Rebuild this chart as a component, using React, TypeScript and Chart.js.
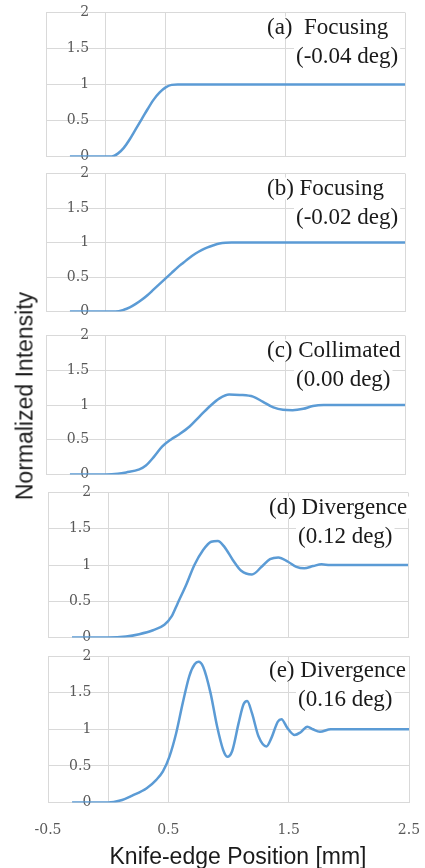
import React, { useEffect, useRef } from "react";
import { Chart, registerables } from "chart.js";
Chart.register(...registerables);

// ---------- data ----------
const X_TICKS = [-0.5, 0.5, 1.5, 2.5];
const X_CROSS = 0; // where the vertical axis line crosses
const Y_TICKS = [0, 0.5, 1, 1.5, 2];

const XA = [-0.3, 0, 0.05, 0.1, 0.15, 0.2, 0.25, 0.3, 0.35, 0.4, 0.45, 0.5, 0.55, 0.6, 2.5];
const YA = [0, 0, 0, 0.04, 0.12, 0.24, 0.38, 0.52, 0.66, 0.79, 0.89, 0.96, 0.995, 1.0, 1.0];

const XB = [-0.3, 0, 0.08, 0.15, 0.2, 0.25, 0.3, 0.35, 0.4, 0.45, 0.5, 0.55, 0.6, 0.65, 0.7, 0.75, 0.8, 0.85, 0.9, 0.95, 1.0, 1.05, 2.5];
const YB = [0, 0, 0, 0.025, 0.06, 0.11, 0.17, 0.24, 0.32, 0.4, 0.48, 0.56, 0.64, 0.71, 0.78, 0.84, 0.89, 0.93, 0.96, 0.985, 0.997, 1.0, 1.0];

const XC = [-0.3, 0, 0.1, 0.17, 0.28, 0.335, 0.4, 0.47, 0.545, 0.615, 0.7, 0.78, 0.865, 0.95, 1.03, 1.12, 1.23, 1.31, 1.4, 1.48, 1.56, 1.65, 1.73, 1.82, 2.5];
const YC = [0, 0, 0.01, 0.03, 0.075, 0.13, 0.25, 0.4, 0.505, 0.58, 0.69, 0.83, 0.975, 1.095, 1.15, 1.145, 1.12, 1.05, 0.965, 0.93, 0.925, 0.945, 0.985, 1.0, 1.0];

const XD = [-0.3, 0, 0.15, 0.26, 0.375, 0.47, 0.53, 0.58, 0.65, 0.72, 0.79, 0.86, 0.915, 0.97, 1.04, 1.11, 1.2, 1.28, 1.35, 1.42, 1.5, 1.57, 1.635, 1.71, 1.78, 1.85, 2.5];
const YD = [0, 0, 0.014, 0.046, 0.1, 0.175, 0.29, 0.47, 0.72, 1.0, 1.2, 1.32, 1.33, 1.25, 1.07, 0.92, 0.87, 0.975, 1.08, 1.105, 1.045, 0.975, 0.955, 0.985, 1.01, 1.0, 1.0];

const XE = [-0.3, 0, 0.1, 0.2, 0.32, 0.4, 0.455, 0.51, 0.565, 0.62, 0.675, 0.72, 0.75, 0.79, 0.85, 0.905, 0.955, 0.99, 1.03, 1.085, 1.125, 1.155, 1.195, 1.25, 1.315, 1.355, 1.41, 1.44, 1.49, 1.55, 1.6, 1.655, 1.7, 1.76, 1.85, 2.5];
const YE = [0, 0, 0.027, 0.095, 0.195, 0.31, 0.425, 0.63, 0.945, 1.36, 1.73, 1.89, 1.92, 1.85, 1.5, 1.04, 0.72, 0.625, 0.7, 1.09, 1.34, 1.385, 1.22, 0.9, 0.765, 0.875, 1.105, 1.137, 1.015, 0.922, 0.96, 1.035, 1.0, 0.965, 1.0, 1.0];

const SERIES_X = [XA, XB, XC, XD, XE];
const SERIES_Y = [YA, YB, YC, YD, YE];

const LABEL_LINE1 = ["(a)  Focusing", "(b) Focusing", "(c) Collimated", "(d) Divergence", "(e) Divergence"];
const LABEL_LINE2 = ["(-0.04 deg)", "(-0.02 deg)", "(0.00 deg)", "(0.12 deg)", "(0.16 deg)"];

const X_TITLE = "Knife-edge Position [mm]";
const Y_TITLE = "Normalized Intensity";

// ---------- layout / style ----------
const W = 425;
const H = 868;
const BOXES = [
  { l: 46, r: 405, t: 12.5, b: 156.5 },
  { l: 46, r: 405, t: 173.5, b: 311.5 },
  { l: 46, r: 405, t: 335.5, b: 474.5 },
  { l: 48, r: 408, t: 492.5, b: 637.5 },
  { l: 48, r: 409, t: 656, b: 802.5 },
];
const Y_LABEL_AT = -0.14; // y tick labels sit just left of the x=0 axis line
const GRID = "#d9d9d9";
const LINE = "#5b9bd5";
const TICK_FONT = { family: "'DejaVu Serif', serif", size: 14 };
const TICK_COLOR = "#595959";

const panelLabelPlugin = {
  id: "panelLabel",
  afterDraw(chart: any, _args: any, opts: any) {
    const { ctx, chartArea } = chart;
    ctx.save();
    ctx.font = "23px 'Liberation Serif', 'Times New Roman', serif";
    ctx.textBaseline = "middle";
    ctx.textAlign = "left";
    const lines = [
      { text: opts.line1, x: chartArea.left + 221, y: chartArea.top + 15 },
      { text: opts.line2, x: chartArea.left + 250, y: chartArea.top + 44 },
    ];
    for (const ln of lines) {
      const w = ctx.measureText(ln.text).width;
      ctx.fillStyle = "#ffffff";
      ctx.fillRect(ln.x - 2, ln.y - 11, w + 4, 22);
    }
    ctx.fillStyle = "#1a1a1a";
    for (const ln of lines) ctx.fillText(ln.text, ln.x, ln.y);
    ctx.restore();
  },
};

function Panel({ idx }: { idx: number }) {
  const ref = useRef<HTMLCanvasElement>(null);
  const box = BOXES[idx];
  const last = idx === BOXES.length - 1;
  const top = Math.floor(box.t - 16);
  const bottom = last ? H : Math.ceil(box.b + 16);
  const height = bottom - top;

  useEffect(() => {
    if (!ref.current) return;
    const xs = SERIES_X[idx];
    const ys = SERIES_Y[idx];
    const axisH = last ? H - box.b : 0;
    const chart = new Chart(ref.current, {
      type: "line",
      data: {
        datasets: [
          {
            data: xs.map((x, i) => ({ x, y: ys[i] })),
            borderColor: LINE,
            borderWidth: 2.5,
            pointRadius: 0,
            fill: false,
            cubicInterpolationMode: "monotone",
          },
        ],
      },
      options: {
        animation: false,
        responsive: false,
        maintainAspectRatio: false,
        events: [],
        layout: {
          padding: {
            left: box.l,
            right: W - box.r,
            top: box.t - top,
            bottom: last ? 0 : bottom - box.b,
          },
        },
        plugins: {
          legend: { display: false },
          tooltip: { enabled: false },
          panelLabel: { line1: LABEL_LINE1[idx], line2: LABEL_LINE2[idx] },
        } as any,
        scales: {
          x: {
            type: "linear",
            min: -0.5,
            max: 2.5,
            afterBuildTicks: (s: any) => {
              s.ticks = [...X_TICKS, X_CROSS]
                .sort((a, b) => a - b)
                .map((v) => ({ value: v }));
            },
            afterFit: (s: any) => {
              s.height = axisH;
            },
            grid: {
              color: GRID,
              lineWidth: 1,
              drawTicks: last,
              tickLength: 19,
              tickColor: "rgba(0,0,0,0)",
            },
            border: { display: false },
            ticks: {
              display: last,
              padding: 0,
              font: TICK_FONT,
              color: TICK_COLOR,
              callback: (v: any) => (X_TICKS.includes(v) ? String(v) : ""),
            },
          },
          y: {
            type: "linear",
            min: 0,
            max: 2,
            position: { x: Y_LABEL_AT } as any,
            afterBuildTicks: (s: any) => {
              s.ticks = Y_TICKS.map((v) => ({ value: v }));
            },
            grid: { color: GRID, lineWidth: 1, drawTicks: false },
            border: { display: false },
            ticks: {
              padding: 0,
              font: TICK_FONT,
              color: TICK_COLOR,
              callback: (v: any) => String(v),
            },
          },
        },
      },
      plugins: [panelLabelPlugin],
    });
    return () => chart.destroy();
  }, []);

  return (
    <canvas
      ref={ref}
      width={W}
      height={height}
      style={{ position: "absolute", left: 0, top, width: W, height }}
    />
  );
}

export default function App() {
  return (
    <div
      style={{
        position: "absolute",
        left: 0,
        top: 0,
        width: W,
        height: H,
        background: "#ffffff",
        overflow: "hidden",
      }}
    >
      {BOXES.map((_, i) => (
        <Panel key={i} idx={i} />
      ))}
      <div
        style={{
          position: "absolute",
          left: 25,
          top: 396,
          transform: "translate(-50%, -50%) rotate(-90deg)",
          whiteSpace: "nowrap",
          font: "23px 'Liberation Sans', Arial, sans-serif",
          lineHeight: "1",
          color: "#1a1a1a",
        }}
      >
        {Y_TITLE}
      </div>
      <div
        style={{
          position: "absolute",
          left: 238,
          top: 856,
          transform: "translate(-50%, -50%)",
          whiteSpace: "nowrap",
          font: "23px 'Liberation Sans', Arial, sans-serif",
          lineHeight: "1",
          color: "#1a1a1a",
        }}
      >
        {X_TITLE}
      </div>
    </div>
  );
}
